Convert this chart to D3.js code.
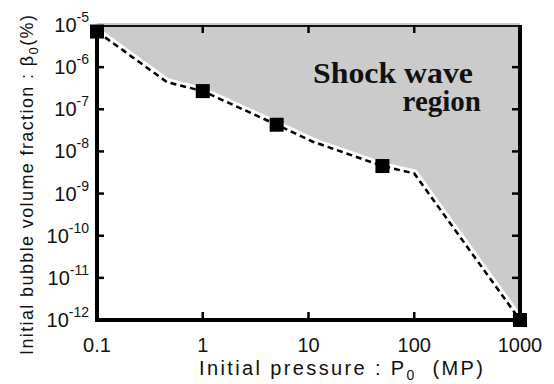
<!DOCTYPE html>
<html>
<head>
<meta charset="utf-8">
<script src="https://cdn.jsdelivr.net/npm/d3@7"></script>
<style>
  body { margin: 0; background: #fff; }
  svg { display: block; }
</style>
</head>
<body>
<div id="chart"></div>
<script>
// measured points (squares)
const pressures = [0.1, 1, 5, 50, 1000];
const fractions = [7e-6, 2.7e-7, 4.3e-8, 4.5e-9, 1e-12];

// dashed boundary of the shock wave region
const boundaryP = [0.1, 0.46, 1, 5, 11, 50, 100, 1000];
const boundaryB = [7e-6, 4.4e-7, 2.7e-7, 4.3e-8, 1.7e-8, 4.5e-9, 3e-9, 1e-12];

const xTicks = [0.1, 1, 10, 100, 1000];
const xTickLabels = ['0.1', '1', '10', '100', '1000'];
const yTicks = [1e-5, 1e-6, 1e-7, 1e-8, 1e-9, 1e-10, 1e-11, 1e-12];
const yTickExp = ['-5', '-6', '-7', '-8', '-9', '-10', '-11', '-12'];

function renderChart() {
  const width = 554, height = 384;
  const svg = d3.select('#chart').append('svg')
    .attr('width', width)
    .attr('height', height);

  const x = d3.scaleLog().domain([0.1, 1000]).range([97, 520]);
  const y = d3.scaleLog().domain([1e-12, 1e-5]).range([320, 25]);
  const [x0, x1] = x.range();
  const [y0, y1] = y.range(); // y0 bottom, y1 top

  const pts = boundaryP.map((p, i) => [x(p), y(boundaryB[i])]);

  // grey shock wave region
  const area = [[x0, y1 - 2], ...pts, [x1, y1 - 2]];
  svg.append('path')
    .attr('d', d3.line()(area) + 'Z')
    .attr('fill', '#cbcbcb');

  // white gap along the boundary
  svg.append('path')
    .attr('d', d3.line()(pts))
    .attr('fill', 'none')
    .attr('stroke', '#fff')
    .attr('stroke-width', 8)
    .attr('stroke-linejoin', 'round');

  svg.append('path')
    .attr('d', d3.line()(pts))
    .attr('fill', 'none')
    .attr('stroke', '#000')
    .attr('stroke-width', 2.5)
    .attr('stroke-dasharray', '6,4');

  // frame
  svg.append('line').attr('x1', x0).attr('x2', x1).attr('y1', y1 + 1).attr('y2', y1 + 1)
    .attr('stroke', '#111').attr('stroke-width', 2);
  svg.append('line').attr('x1', x1).attr('x2', x1).attr('y1', y1).attr('y2', y0)
    .attr('stroke', '#000').attr('stroke-width', 4);
  svg.append('line').attr('x1', x0).attr('x2', x0).attr('y1', y1).attr('y2', y0 + 2)
    .attr('stroke', '#000').attr('stroke-width', 4);
  svg.append('line').attr('x1', x0 - 2).attr('x2', x1 + 2).attr('y1', y0).attr('y2', y0)
    .attr('stroke', '#000').attr('stroke-width', 4);

  // ticks
  xTicks.slice(1, -1).forEach(t => {
    svg.append('line').attr('x1', x(t)).attr('x2', x(t)).attr('y1', y0).attr('y2', y0 - 8)
      .attr('stroke', '#000').attr('stroke-width', 2.5);
    svg.append('line').attr('x1', x(t)).attr('x2', x(t)).attr('y1', y1).attr('y2', y1 + 8)
      .attr('stroke', '#000').attr('stroke-width', 2.5);
  });
  yTicks.slice(1, -1).forEach(t => {
    svg.append('line').attr('x1', x0).attr('x2', x0 + 7).attr('y1', y(t)).attr('y2', y(t))
      .attr('stroke', '#000').attr('stroke-width', 2.5);
    svg.append('line').attr('x1', x1).attr('x2', x1 - 8).attr('y1', y(t)).attr('y2', y(t))
      .attr('stroke', '#000').attr('stroke-width', 2.5);
  });

  const font = 'Liberation Sans, Arial, sans-serif';

  // x tick labels
  xTicks.forEach((t, i) => {
    svg.append('text')
      .attr('x', x(t))
      .attr('y', y0 + 32)
      .attr('text-anchor', 'middle')
      .attr('font-family', font)
      .attr('font-size', '20px')
      .attr('fill', '#111')
      .text(xTickLabels[i]);
  });

  // y tick labels 10^n
  yTicks.forEach((t, i) => {
    const tx = svg.append('text')
      .attr('x', 89)
      .attr('y', y(t) + 7)
      .attr('text-anchor', 'end')
      .attr('font-family', font)
      .attr('font-size', '20px')
      .attr('fill', '#111');
    tx.append('tspan').text('10');
    tx.append('tspan')
      .attr('font-size', '14px')
      .attr('dy', -10)
      .text(yTickExp[i]);
  });

  // axis titles
  const xl = svg.append('text')
    .attr('x', 199)
    .attr('y', 375)
    .attr('font-family', font)
    .attr('font-size', '20px')
    .attr('fill', '#111')
    .attr('textLength', 284)
    .attr('lengthAdjust', 'spacing')
    .attr('xml:space', 'preserve');
  xl.append('tspan').text('Initial pressure : P');
  xl.append('tspan').attr('font-size', '14px').attr('dy', 5).text('0');
  xl.append('tspan').attr('dy', -5).text('  (MP)');

  const yl = svg.append('text')
    .attr('transform', 'translate(33,355) rotate(-90)')
    .attr('font-family', font)
    .attr('font-size', '18px')
    .attr('fill', '#111')
    .attr('textLength', 340)
    .attr('lengthAdjust', 'spacing');
  yl.append('tspan').text('Initial bubble volume fraction : β');
  yl.append('tspan').attr('font-size', '13px').attr('dy', 5).text('0');
  yl.append('tspan').attr('dy', -5).text('(%)');

  // region label
  const serif = 'Liberation Serif, Times New Roman, serif';
  svg.append('text')
    .attr('x', 313).attr('y', 83)
    .attr('font-family', serif)
    .attr('font-weight', 'bold')
    .attr('font-size', '29px')
    .attr('fill', '#111')
    .attr('textLength', 160)
    .attr('lengthAdjust', 'spacingAndGlyphs')
    .text('Shock wave');
  svg.append('text')
    .attr('x', 481).attr('y', 111)
    .attr('text-anchor', 'end')
    .attr('font-family', serif)
    .attr('font-weight', 'bold')
    .attr('font-size', '29px')
    .attr('fill', '#111')
    .text('region');

  // squares
  const s = 14;
  svg.selectAll('rect.pt')
    .data(pressures.map((p, i) => ({ p, b: fractions[i] })))
    .enter().append('rect')
    .attr('class', 'pt')
    .attr('x', d => x(d.p) - s / 2)
    .attr('y', d => y(d.b) - s / 2)
    .attr('width', s)
    .attr('height', s)
    .attr('fill', '#000');
}

renderChart();
</script>
</body>
</html>
